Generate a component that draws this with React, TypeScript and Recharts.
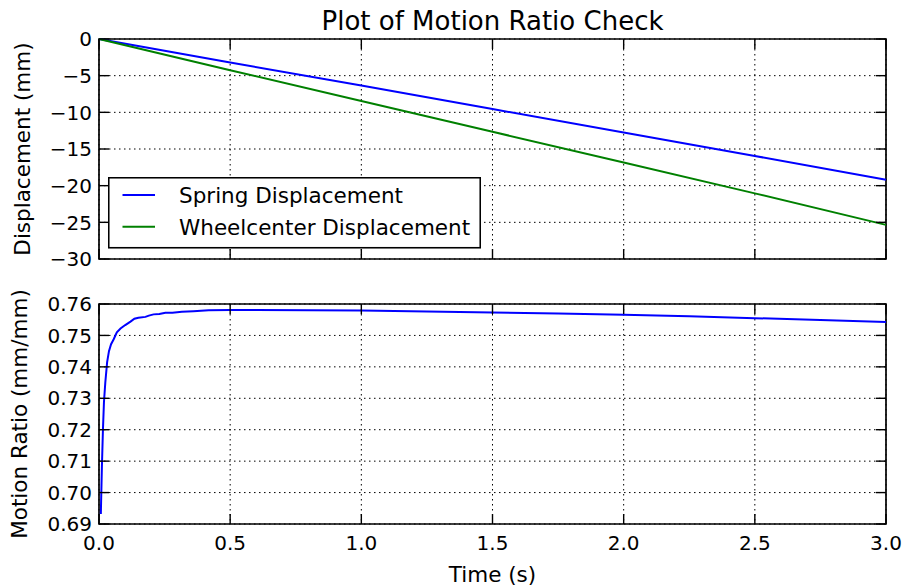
import React from "react";
import {
  LineChart,
  Line,
  XAxis,
  YAxis,
  CartesianGrid,
  ReferenceArea,
  Legend,
} from "recharts";

// ---- data ----
const dispTime = [0, 0.5, 1.0, 1.5, 2.0, 2.5, 3.0];
const springDisp = [0, -3.2, -6.35, -9.55, -12.75, -15.95, -19.2];
const wheelDisp = [0, -4.25, -8.45, -12.65, -16.85, -21.05, -25.35];

const ratioTime = [
  0.007, 0.011, 0.015, 0.019, 0.024, 0.031, 0.038, 0.046, 0.056, 0.068, 0.082,
  0.1, 0.12, 0.135, 0.15, 0.177, 0.19, 0.208, 0.23, 0.253, 0.28, 0.316, 0.36,
  0.418, 0.5, 0.6, 0.8, 1.0, 1.25, 1.5, 1.75, 2.0, 2.25, 2.5, 2.75, 3.0,
];
const motionRatio = [
  0.6932, 0.708, 0.7199, 0.729, 0.735, 0.7415, 0.745, 0.7472, 0.7488, 0.751,
  0.7522, 0.7533, 0.7544, 0.7553, 0.7556, 0.7559, 0.7563, 0.7567, 0.7568,
  0.7572, 0.7572, 0.7575, 0.7577, 0.758, 0.7581, 0.7581, 0.758, 0.7579,
  0.7576, 0.7573, 0.757, 0.7566, 0.7561, 0.7555, 0.7549, 0.7543,
];

const timeTicks = [0, 0.5, 1.0, 1.5, 2.0, 2.5, 3.0];
const dispTicks = [0, -5, -10, -15, -20, -25, -30];
const ratioTicks = [0.69, 0.7, 0.71, 0.72, 0.73, 0.74, 0.75, 0.76];

const dispRows = dispTime.map((t, i) => ({
  t,
  spring: springDisp[i],
  wheel: wheelDisp[i],
}));
const ratioRows = ratioTime.map((t, i) => ({ t, ratio: motionRatio[i] }));

// ---- layout ----
const FONT = "'DejaVu Sans', sans-serif";
const W = 906;
const LEFT = 99;
const RIGHT_PAD = 20;
const PLOT_W = W - LEFT - RIGHT_PAD;
const PLOT_H = 220;
const TICK_LEN = 10;
const TICK_FS = 20;
const LABEL_FS = 21.5;
const BLUE = "#0000ff";
const GREEN = "#008000";

const minus = (s: string) => s.replace("-", "\u2212");

// inward tick marks on bottom + top edges, optional label under bottom edge
const makeXTick = (showLabel: boolean) => (props: any) => {
  const { x, y, payload } = props;
  return (
    <g>
      <line x1={x} x2={x} y1={y} y2={y - TICK_LEN} stroke="#000" strokeWidth={1.4} />
      <line
        x1={x}
        x2={x}
        y1={y - PLOT_H}
        y2={y - PLOT_H + TICK_LEN}
        stroke="#000"
        strokeWidth={1.4}
      />
      {showLabel && (
        <text
          x={x}
          y={y + 25.5}
          textAnchor="middle"
          fontSize={TICK_FS}
          fontFamily={FONT}
          fill="#000"
        >
          {Number(payload.value).toFixed(1)}
        </text>
      )}
    </g>
  );
};

// inward tick marks on left + right edges, label left of the axis
const makeYTick = (fmt: (v: number) => string) => (props: any) => {
  const { x, y, payload } = props;
  return (
    <g>
      <line x1={x} x2={x + TICK_LEN} y1={y} y2={y} stroke="#000" strokeWidth={1.4} />
      <line
        x1={x + PLOT_W}
        x2={x + PLOT_W - TICK_LEN}
        y1={y}
        y2={y}
        stroke="#000"
        strokeWidth={1.4}
      />
      <text
        x={x - 7}
        y={y + 7.2}
        textAnchor="end"
        fontSize={TICK_FS}
        fontFamily={FONT}
        fill="#000"
      >
        {fmt(Number(payload.value))}
      </text>
    </g>
  );
};

const makeYLabel = (text: string, bx: number) => (props: any) => {
  const vb = props.viewBox || {};
  const cy = vb.y + vb.height / 2;
  return (
    <text
      x={bx}
      y={cy}
      transform={`rotate(-90, ${bx}, ${cy})`}
      textAnchor="middle"
      fontSize={LABEL_FS}
      fontFamily={FONT}
      fill="#000"
    >
      {text}
    </text>
  );
};

const LegendBox = (props: any) => {
  const items = props.payload || [];
  return (
    <svg width={373} height={72} style={{ display: "block" }}>
      <rect x={0.75} y={0.75} width={371.5} height={70} fill="#fff" stroke="#000" strokeWidth={1.6} />
      {items.map((it: any, i: number) => {
        const cy = 18 + i * 31.7;
        return (
          <g key={i}>
            <line x1={14.5} x2={47} y1={cy} y2={cy} stroke={it.color} strokeWidth={2} />
            <text x={71} y={cy + 7.8} fontSize={LABEL_FS} fontFamily={FONT} fill="#000">
              {it.value}
            </text>
          </g>
        );
      })}
    </svg>
  );
};

export default function App() {
  return (
    <div
      style={{
        position: "absolute",
        left: 0,
        top: 0,
        width: W,
        height: 587,
        background: "#fff",
        fontFamily: FONT,
      }}
    >
      <svg
        width={W}
        height={40}
        style={{ position: "absolute", left: 0, top: 0 }}
      >
        <text
          x={LEFT + PLOT_W / 2}
          y={29.5}
          textAnchor="middle"
          fontSize={26}
          fontFamily={FONT}
          fill="#000"
        >
          Plot of Motion Ratio Check
        </text>
      </svg>

      <div style={{ position: "absolute", left: 0, top: 0 }}>
        <LineChart
          width={W}
          height={270}
          data={dispRows}
          margin={{ top: 39, right: RIGHT_PAD, left: 0, bottom: 0 }}
        >
          <CartesianGrid stroke="#000" strokeWidth={1} strokeDasharray="1.5 3.5" />
          <XAxis
            dataKey="t"
            type="number"
            domain={[0, 3]}
            ticks={timeTicks}
            interval={0}
            height={11}
            tickSize={0}
            tickMargin={0}
            tickLine={false}
            axisLine={false}
            tick={makeXTick(false)}
          />
          <YAxis
            type="number"
            domain={[-30, 0]}
            ticks={dispTicks}
            interval={0}
            width={LEFT}
            tickSize={0}
            tickMargin={0}
            tickLine={false}
            axisLine={false}
            tick={makeYTick((v) => minus(String(v)))}
            label={{ content: makeYLabel("Displacement (mm)", 29.5) }}
          />
          <ReferenceArea
            x1={0}
            x2={3}
            y1={-30}
            y2={0}
            fill="none"
            stroke="#000"
            strokeWidth={1.7}
            ifOverflow="visible"
          />
          <Line
            dataKey="spring"
            name="Spring Displacement"
            stroke={BLUE}
            strokeWidth={2}
            dot={false}
            activeDot={false}
            type="linear"
            isAnimationActive={false}
          />
          <Line
            dataKey="wheel"
            name="Wheelcenter Displacement"
            stroke={GREEN}
            strokeWidth={2}
            dot={false}
            activeDot={false}
            type="linear"
            isAnimationActive={false}
          />
          <Legend
            layout="horizontal"
            verticalAlign="middle"
            align="center"
            content={<LegendBox />}
            wrapperStyle={{ left: 108, top: 177, width: 373, height: 72 }}
          />
        </LineChart>
      </div>

      <div style={{ position: "absolute", left: 0, top: 280 }}>
        <LineChart
          width={W}
          height={307}
          data={ratioRows}
          margin={{ top: 24, right: RIGHT_PAD, left: 0, bottom: 0 }}
        >
          <CartesianGrid stroke="#000" strokeWidth={1} strokeDasharray="1.5 3.5" />
          <XAxis
            dataKey="t"
            type="number"
            domain={[0, 3]}
            ticks={timeTicks}
            interval={0}
            height={63}
            tickSize={0}
            tickMargin={0}
            tickLine={false}
            axisLine={false}
            tick={makeXTick(true)}
            label={{
              value: "Time (s)",
              position: "insideBottom",
              offset: 5,
              fontSize: LABEL_FS,
              fontFamily: FONT,
              fill: "#000",
            }}
          />
          <YAxis
            type="number"
            domain={[0.69, 0.76]}
            ticks={ratioTicks}
            interval={0}
            width={LEFT}
            tickSize={0}
            tickMargin={0}
            tickLine={false}
            axisLine={false}
            allowDataOverflow
            tick={makeYTick((v) => v.toFixed(2))}
            label={{ content: makeYLabel("Motion Ratio (mm/mm)", 27) }}
          />
          <ReferenceArea
            x1={0}
            x2={3}
            y1={0.69}
            y2={0.76}
            fill="none"
            stroke="#000"
            strokeWidth={1.7}
            ifOverflow="visible"
          />
          <Line
            dataKey="ratio"
            name="Motion Ratio"
            stroke={BLUE}
            strokeWidth={2}
            dot={false}
            activeDot={false}
            type="linear"
            isAnimationActive={false}
          />
        </LineChart>
      </div>
    </div>
  );
}
